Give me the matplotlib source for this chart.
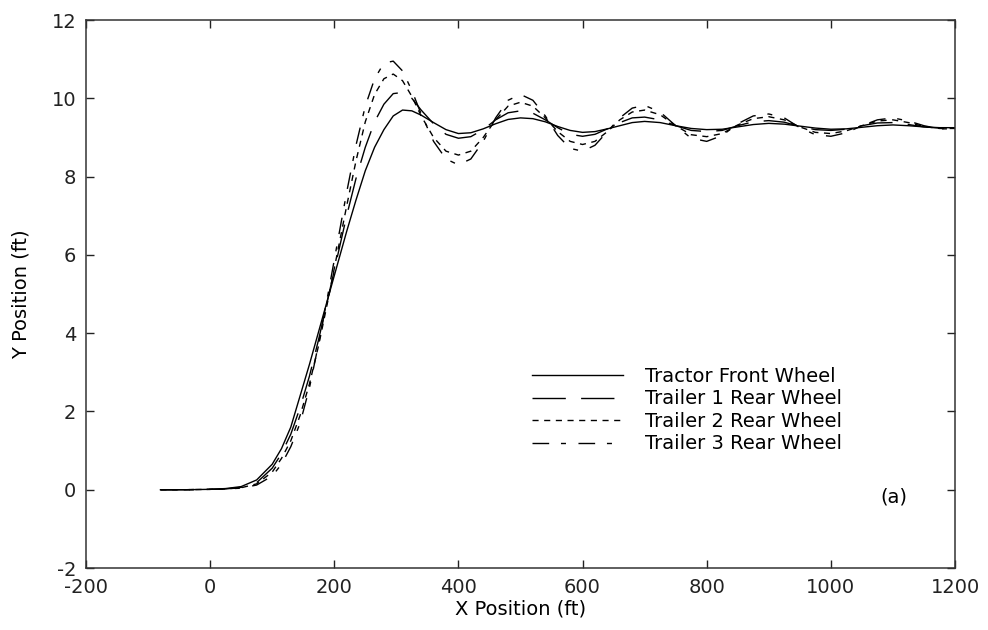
import numpy as np
import matplotlib
matplotlib.use('Agg')
import matplotlib.pyplot as plt

plt.rcParams['font.family'] = ['DejaVu Sans']
plt.rcParams['axes.unicode_minus'] = False

## data (ft)
x = [-80, -40, 0, 25, 50, 75, 100, 115, 130, 145, 160, 175, 190, 205, 220, 235,
     250, 265, 280, 295, 310, 325, 340, 360, 380, 400, 420, 440, 460, 480, 500,
     520, 540, 560, 580, 600, 620, 640, 660, 680, 700, 725, 750, 775, 800, 825,
     850, 875, 900, 925, 950, 975, 1000, 1025, 1050, 1075, 1100, 1125, 1150,
     1175, 1200]

y_tractor = [0, 0, 0.01, 0.03, 0.08, 0.25, 0.65, 1.05, 1.6, 2.4, 3.2, 4.05, 4.9,
             5.75, 6.6, 7.4, 8.15, 8.75, 9.2, 9.55, 9.7, 9.68, 9.57, 9.38, 9.2,
             9.1, 9.12, 9.22, 9.35, 9.46, 9.5, 9.48, 9.4, 9.28, 9.18, 9.13, 9.15,
             9.22, 9.3, 9.38, 9.41, 9.38, 9.3, 9.23, 9.2, 9.21, 9.27, 9.33, 9.36,
             9.34, 9.29, 9.24, 9.21, 9.22, 9.26, 9.3, 9.32, 9.3, 9.27, 9.25, 9.25]

y_trailer1 = [0, 0, 0.01, 0.02, 0.06, 0.18, 0.55, 0.92, 1.42, 2.1, 2.9, 3.85, 4.9,
              5.95, 7.0, 7.95, 8.75, 9.4, 9.85, 10.12, 10.15, 10.0, 9.7, 9.35,
              9.08, 8.98, 9.02, 9.2, 9.45, 9.63, 9.68, 9.62, 9.45, 9.25, 9.08,
              9.03, 9.08, 9.22, 9.38, 9.5, 9.52, 9.45, 9.3, 9.18, 9.15, 9.18, 9.3,
              9.4, 9.43, 9.39, 9.28, 9.2, 9.18, 9.21, 9.3, 9.37, 9.38, 9.33, 9.27,
              9.24, 9.24]

y_trailer2 = [0, 0, 0.01, 0.02, 0.05, 0.15, 0.45, 0.8, 1.25, 1.9, 2.7, 3.7, 4.85,
              6.05, 7.25, 8.4, 9.4, 10.1, 10.5, 10.62, 10.45, 10.05, 9.55, 9.0,
              8.65, 8.55, 8.65, 9.0, 9.45, 9.8, 9.9, 9.8, 9.5, 9.15, 8.9, 8.82,
              8.9, 9.15, 9.45, 9.65, 9.7, 9.58, 9.3, 9.07, 9.02, 9.1, 9.32, 9.48,
              9.53, 9.45, 9.27, 9.13, 9.1, 9.17, 9.3, 9.42, 9.45, 9.38, 9.28,
              9.23, 9.23]

y_trailer3 = [0, 0, 0.01, 0.02, 0.04, 0.12, 0.35, 0.65, 1.1, 1.7, 2.6, 3.75, 5.0,
              6.3, 7.6, 8.8, 9.8, 10.5, 10.9, 10.95, 10.7, 10.2, 9.6, 8.9, 8.45,
              8.3, 8.45, 8.9, 9.5, 9.95, 10.1, 9.95, 9.55, 9.05, 8.72, 8.65, 8.8,
              9.15, 9.5, 9.75, 9.82, 9.65, 9.3, 8.98, 8.9, 9.05, 9.35, 9.55, 9.6,
              9.5, 9.25, 9.07, 9.03, 9.12, 9.3, 9.45, 9.5, 9.42, 9.3, 9.22, 9.22]

labels = ['Tractor Front Wheel', 'Trailer 1 Rear Wheel',
          'Trailer 2 Rear Wheel', 'Trailer 3 Rear Wheel']

x_ticks = np.arange(-200, 1201, 200)
y_ticks = np.arange(-2, 13, 2)

fig = plt.figure(figsize=(9.88, 6.3), dpi=100)
ax = fig.add_axes([0.0870, 0.0984, 0.8796, 0.8698])

lw = 1.0
ax.plot(x, y_tractor, color='black', lw=lw, ls='-', label=labels[0])
ax.plot(x, y_trailer1, color='black', lw=lw, ls=(0, (24, 11)), label=labels[1])
ax.plot(x, y_trailer2, color='black', lw=lw, ls=(0, (4.4, 4)), label=labels[2])
ax.plot(x, y_trailer3, color='black', lw=lw, ls=(0, (12, 8.5, 3.6, 9)), label=labels[3])

ax.set_xlim(-200, 1200)
ax.set_ylim(-2, 12)
ax.set_xticks(x_ticks)
ax.set_yticks(y_ticks)
ax.tick_params(direction='in', length=6, width=1.0, pad=7, labelsize=14,
               top=True, right=True, colors='#222222')
for s in ax.spines.values():
    s.set_linewidth(1.1)
    s.set_color('#333333')

ax.set_xlabel('X Position (ft)', fontsize=14)
ax.set_ylabel('Y Position (ft)', fontsize=14)
ax.xaxis.set_label_coords(0.5, -0.057)
ax.yaxis.set_label_coords(-0.064, 0.5)

ax.text(1079, -0.19, '(a)', fontsize=14, ha='left', va='center')

ax.legend(loc='upper left', bbox_to_anchor=(0.513, 0.367), frameon=False,
          fontsize=14, handlelength=4.7, handletextpad=1.13, labelspacing=0.18,
          borderpad=0, borderaxespad=0)

fig.savefig('out.png', dpi=100)
